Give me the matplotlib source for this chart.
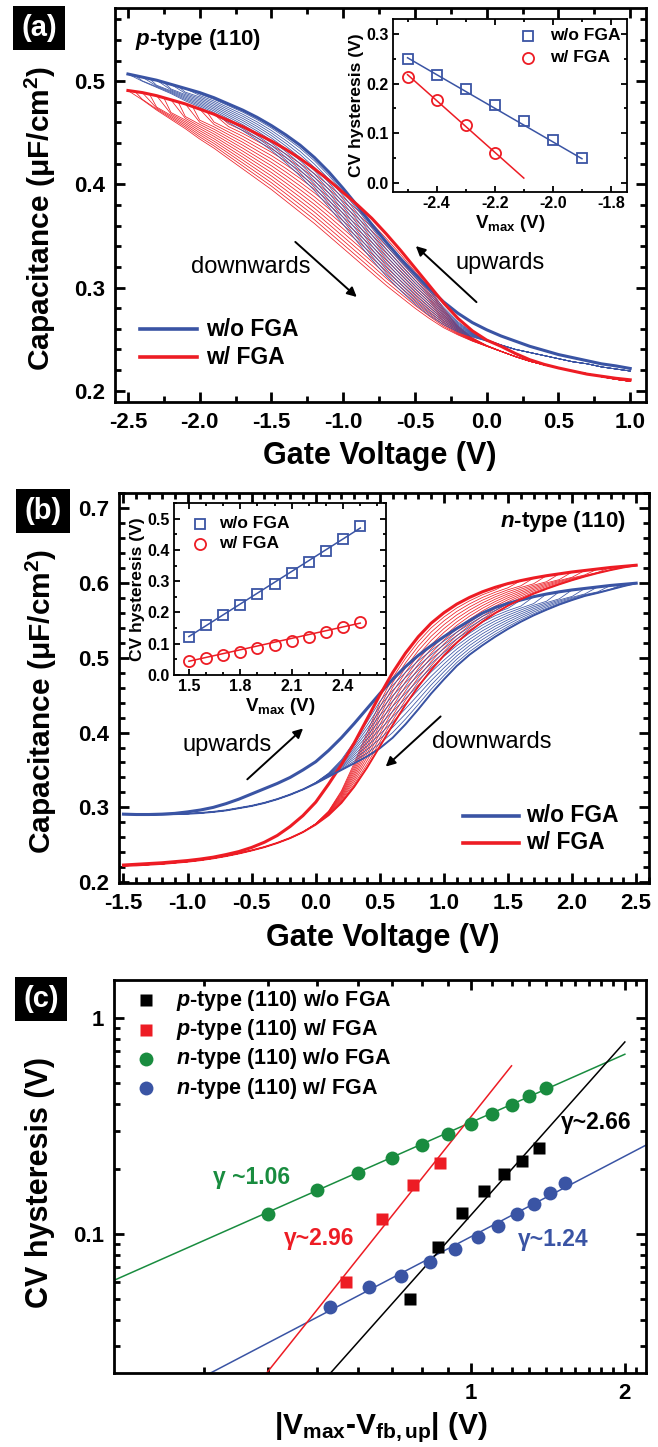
import numpy as np
import matplotlib
matplotlib.use('Agg')
import matplotlib.pyplot as plt
from matplotlib.ticker import MultipleLocator, FixedLocator, FixedFormatter, NullFormatter

plt.rcParams['font.family'] = ['Liberation Sans', 'DejaVu Sans']
plt.rcParams['font.weight'] = 'bold'
plt.rcParams['axes.labelweight'] = 'bold'
plt.rcParams['axes.unicode_minus'] = False
plt.rcParams['mathtext.fontset'] = 'custom'
plt.rcParams['mathtext.rm'] = 'Liberation Sans:bold'
plt.rcParams['mathtext.bf'] = 'Liberation Sans:bold'
plt.rcParams['mathtext.it'] = 'Liberation Sans:italic:bold'
plt.rcParams['mathtext.default'] = 'rm'

W, H = 658, 1447
BLUE = '#3a54a4'
RED = '#ed1c24'
GREEN = '#198c3f'

# ---------------- (a) p-type (110) CV loops ----------------
va = [-2.5, -2.4, -2.3, -2.2, -2.1, -2.0, -1.9, -1.8, -1.7, -1.6, -1.5, -1.4,
      -1.3, -1.2, -1.1, -1.0, -0.9, -0.8, -0.7, -0.6, -0.5, -0.4, -0.3, -0.2,
      -0.1, 0.0, 0.1, 0.2, 0.3, 0.4, 0.5, 0.6, 0.7, 0.8, 0.9, 1.0]
blue_a_up = [0.507, 0.504, 0.501, 0.497, 0.493, 0.489, 0.484, 0.478, 0.472, 0.465, 0.457, 0.448,
             0.438, 0.426, 0.412, 0.396, 0.379, 0.361, 0.344, 0.328, 0.313, 0.299, 0.286, 0.275,
             0.266, 0.259, 0.253, 0.248, 0.243, 0.239, 0.235, 0.232, 0.229, 0.226, 0.224, 0.2215]
blue_a_down = [0.507, 0.500, 0.494, 0.488, 0.481, 0.475, 0.468, 0.460, 0.452, 0.443, 0.433, 0.421,
               0.408, 0.394, 0.378, 0.361, 0.344, 0.327, 0.311, 0.297, 0.284, 0.273, 0.264, 0.257,
               0.252, 0.248, 0.244, 0.240, 0.237, 0.234, 0.231, 0.228, 0.226, 0.223, 0.221, 0.219]
red_a_up = [0.491, 0.489, 0.486, 0.482, 0.478, 0.473, 0.468, 0.462, 0.456, 0.449, 0.442, 0.434,
            0.425, 0.415, 0.404, 0.392, 0.380, 0.367, 0.352, 0.336, 0.319, 0.302, 0.285, 0.270,
            0.258, 0.249, 0.243, 0.236, 0.230, 0.2255, 0.222, 0.219, 0.216, 0.214, 0.212, 0.2105]
red_a_down = [0.491, 0.482, 0.472, 0.463, 0.454, 0.444, 0.435, 0.425, 0.415, 0.405, 0.395, 0.384,
              0.373, 0.362, 0.350, 0.338, 0.326, 0.314, 0.302, 0.291, 0.280, 0.270, 0.261, 0.254,
              0.248, 0.243, 0.238, 0.233, 0.2285, 0.225, 0.222, 0.219, 0.2165, 0.2135, 0.211, 0.209]
# how far the downward sweeps are still spread apart at each voltage (1 = full fan)
a_spread = [1, 1, 1, 1, 1, 1, 1, 1, 1, 1, 1, 1, 1, 1, 1, 1, 1, 1, 1, 1, 1, 1,
            0.85, 0.6, 0.35, 0.15, 0.05, 0, 0, 0, 0, 0, 0, 0, 0, 0]
blue_a_vmax = [-2.5, -2.45, -2.4, -2.35, -2.3, -2.25, -2.2, -2.15, -2.1, -2.05]
blue_a_apex = [0.507, 0.5055, 0.504, 0.5025, 0.501, 0.499, 0.497, 0.495, 0.493, 0.491]
blue_a_frac = [1.0, 0.9, 0.8, 0.7, 0.6, 0.5, 0.4, 0.3, 0.2, 0.1]
red_a_vmax = [-2.5, -2.45, -2.4, -2.35, -2.3, -2.25, -2.2, -2.15, -2.1, -2.05, -2.0, -1.95, -1.9, -1.85]
red_a_apex = [0.491, 0.490, 0.489, 0.4875, 0.486, 0.484, 0.482, 0.480, 0.478, 0.4755, 0.473, 0.4705, 0.468, 0.465]
red_a_frac = [1.0, 0.93, 0.86, 0.79, 0.72, 0.65, 0.58, 0.51, 0.44, 0.37, 0.30, 0.23, 0.16, 0.09]

# (a) inset
a_in_vmax_wo = [-2.5, -2.4, -2.3, -2.2, -2.1, -2.0, -1.9]
a_in_hys_wo = [0.250, 0.218, 0.190, 0.158, 0.125, 0.087, 0.050]
a_in_vmax_w = [-2.5, -2.4, -2.3, -2.2]
a_in_hys_w = [0.213, 0.168, 0.117, 0.060]
a_fit_wo_x, a_fit_wo_y = [-2.5, -1.9], [0.252, 0.049]
a_fit_w_x, a_fit_w_y = [-2.5, -2.1], [0.218, 0.010]

# ---------------- (b) n-type (110) CV loops ----------------
vb = [-1.5, -1.4, -1.3, -1.2, -1.1, -1.0, -0.9, -0.8, -0.7, -0.6, -0.5, -0.4, -0.3, -0.2,
      -0.1, 0.0, 0.1, 0.2, 0.3, 0.4, 0.5, 0.6, 0.7, 0.8, 0.9, 1.0, 1.1, 1.2, 1.3, 1.4,
      1.5, 1.6, 1.7, 1.8, 1.9, 2.0, 2.1, 2.2, 2.3, 2.4, 2.5]
blue_b_up = [0.291, 0.2905, 0.2905, 0.291, 0.292, 0.294, 0.2965, 0.300, 0.305, 0.311, 0.318, 0.325,
             0.332, 0.340, 0.350, 0.361, 0.376, 0.393, 0.412, 0.432, 0.452, 0.471, 0.488, 0.503,
             0.516, 0.528, 0.539, 0.5495, 0.5595, 0.567, 0.5725, 0.577, 0.5815, 0.585, 0.588,
             0.5905, 0.5925, 0.5945, 0.5965, 0.598, 0.5995]
blue_b_down = [0.291, 0.2905, 0.290, 0.2905, 0.291, 0.2915, 0.2925, 0.294, 0.296, 0.299, 0.302, 0.306,
               0.311, 0.317, 0.324, 0.332, 0.341, 0.350, 0.359, 0.368, 0.379, 0.393, 0.411, 0.431,
               0.452, 0.471, 0.489, 0.504, 0.5165, 0.528, 0.5385, 0.548, 0.5565, 0.564, 0.571,
               0.577, 0.5825, 0.5865, 0.591, 0.5955, 0.5995]
red_b_up = [0.223, 0.224, 0.225, 0.226, 0.2275, 0.229, 0.231, 0.2335, 0.237, 0.241, 0.2465, 0.2535,
            0.2625, 0.2745, 0.289, 0.307, 0.331, 0.357, 0.386, 0.418, 0.450, 0.480, 0.506, 0.528,
            0.546, 0.560, 0.5715, 0.5805, 0.588, 0.594, 0.599, 0.603, 0.6065, 0.6095, 0.612,
            0.6145, 0.6165, 0.6185, 0.6205, 0.622, 0.6235]
red_b_down = [0.222, 0.2225, 0.2235, 0.2245, 0.226, 0.2275, 0.2295, 0.232, 0.235, 0.2385, 0.2425, 0.247,
              0.2525, 0.259, 0.267, 0.277, 0.2895, 0.306, 0.3275, 0.353, 0.3815, 0.410, 0.437, 0.4615,
              0.4835, 0.503, 0.520, 0.535, 0.548, 0.5595, 0.5695, 0.578, 0.5855, 0.592, 0.598,
              0.6035, 0.6085, 0.613, 0.617, 0.6205, 0.6235]
b_spread = [0, 0, 0, 0, 0, 0, 0, 0, 0, 0, 0, 0, 0, 0, 0,
            0.05, 0.15, 0.35, 0.6, 0.8, 0.95,
            1, 1, 1, 1, 1, 1, 1, 1, 1, 1, 1, 1, 1, 1, 1, 1, 1, 1, 1, 1]
b_vmax = [1.5, 1.6, 1.7, 1.8, 1.9, 2.0, 2.1, 2.2, 2.3, 2.4, 2.5]
blue_b_apex = [0.5725, 0.577, 0.5815, 0.585, 0.588, 0.5905, 0.5925, 0.5945, 0.5965, 0.598, 0.5995]
red_b_apex = [0.599, 0.603, 0.6065, 0.6095, 0.612, 0.6145, 0.6165, 0.6185, 0.6205, 0.622, 0.6235]
b_frac = [0.1, 0.19, 0.28, 0.37, 0.46, 0.55, 0.64, 0.73, 0.82, 0.91, 1.0]

# (b) inset
b_in_vmax = [1.5, 1.6, 1.7, 1.8, 1.9, 2.0, 2.1, 2.2, 2.3, 2.4, 2.5]
b_in_hys_wo = [0.123, 0.160, 0.193, 0.225, 0.258, 0.290, 0.325, 0.360, 0.398, 0.435, 0.475]
b_in_hys_w = [0.045, 0.055, 0.063, 0.073, 0.085, 0.097, 0.110, 0.123, 0.137, 0.155, 0.170]
b_fit_x = [1.5, 2.5]
b_fit_wo_y = [0.123, 0.470]
b_fit_w_y = [0.044, 0.166]

# ---------------- (c) hysteresis vs |Vmax - Vfb,up| ----------------
c_p_wo_x = [0.76, 0.86, 0.96, 1.06, 1.16, 1.26, 1.36]
c_p_wo_y = [0.050, 0.087, 0.125, 0.158, 0.190, 0.218, 0.250]
c_p_w_x = [0.57, 0.67, 0.77, 0.87]
c_p_w_y = [0.060, 0.117, 0.168, 0.213]
c_n_wo_x = [0.40, 0.50, 0.60, 0.70, 0.80, 0.90, 1.00, 1.10, 1.20, 1.30, 1.40]
c_n_wo_y = [0.123, 0.160, 0.192, 0.224, 0.258, 0.291, 0.324, 0.359, 0.397, 0.434, 0.473]
c_n_w_x = [0.53, 0.63, 0.73, 0.83, 0.93, 1.03, 1.13, 1.23, 1.33, 1.43, 1.53]
c_n_w_y = [0.0458, 0.0564, 0.0639, 0.0738, 0.0851, 0.0965, 0.109, 0.124, 0.137, 0.155, 0.171]
fit_p_wo = ([0.52, 2.0], [0.0214, 0.774])
fit_p_w = ([0.395, 1.2], [0.0221, 0.600])
fit_n_wo = ([0.19, 2.0], [0.0576, 0.679])
fit_n_w = ([0.28, 2.3], [0.0200, 0.272])


def px(x, y):
	return x / W, 1 - y / H


def axbox(l, t, r, b):
	return [l / W, 1 - b / H, (r - l) / W, (b - t) / H]


def style(ax, lw=2.0, size=16, major=7, minor=4, pad=6):
	for s in ax.spines.values():
		s.set_linewidth(lw)
	ax.tick_params(which='both', direction='in', top=True, right=True,
				   width=lw, labelsize=size, pad=pad)
	ax.tick_params(which='major', length=major)
	ax.tick_params(which='minor', length=minor)


def loops(ax, v, up, down, spread, vmax, apex, frac, color, ptype=True):
	# each downward sweep sits between the widest sweep and the upward branch
	v = np.array(v)
	up = np.array(up)
	down = np.array(down)
	spread = np.array(spread, dtype=float)
	for vm, ac, f in zip(vmax, apex, frac):
		if ptype:
			keep = v > vm + 1e-6
		else:
			keep = v < vm - 1e-6
		c = down[keep] + spread[keep] * (1 - f) * (up[keep] - down[keep])
		if ptype:
			xs, ys = np.r_[vm, v[keep]], np.r_[ac, c]
		else:
			xs, ys = np.r_[v[keep], vm], np.r_[c, ac]
		ax.plot(xs, ys, color=color, lw=0.55)


def panel_label(txt, x, y):
	fig.text(*px(x, y), txt, color='white', fontsize=21, fontweight='bold',
			 ha='center', va='center',
			 bbox=dict(boxstyle='square,pad=0.28', fc='black', ec='none'))


def arrow(ax, tail, head):
	ax.annotate('', xy=head, xytext=tail,
				arrowprops=dict(arrowstyle='-|>', lw=1.4, color='k', mutation_scale=14))


fig = plt.figure(figsize=(W / 100, H / 100), dpi=100)

# ======================= panel (a) =======================
ax = fig.add_axes(axbox(115, 8, 646, 402))
loops(ax, va, red_a_up, red_a_down, a_spread, red_a_vmax, red_a_apex, red_a_frac, RED)
loops(ax, va, blue_a_up, blue_a_down, a_spread, blue_a_vmax, blue_a_apex, blue_a_frac, BLUE)
ax.plot(va, blue_a_up, color=BLUE, lw=2.2)
ax.plot(va, red_a_up, color=RED, lw=2.2)
ax.set_xlim(-2.59, 1.11)
ax.set_ylim(0.189, 0.571)
ax.set_xticks([-2.5, -2.0, -1.5, -1.0, -0.5, 0.0, 0.5, 1.0])
ax.set_xticklabels(['-2.5', '-2.0', '-1.5', '-1.0', '-0.5', '0.0', '0.5', '1.0'])
ax.set_yticks([0.2, 0.3, 0.4, 0.5])
ax.set_yticklabels(['0.2', '0.3', '0.4', '0.5'])
ax.xaxis.set_minor_locator(MultipleLocator(0.25))
ax.yaxis.set_minor_locator(MultipleLocator(0.02))
style(ax, pad=7)
ax.text(0.038, 0.919, r'$\mathit{p}$-type (110)', transform=ax.transAxes,
		fontsize=16, ha='left', va='center')
ax.text(0.256, 0.343, 'downwards', transform=ax.transAxes, fontsize=17,
		fontweight='normal', ha='center', va='center')
ax.text(0.725, 0.353, 'upwards', transform=ax.transAxes, fontsize=17,
		fontweight='normal', ha='center', va='center')
arrow(ax, (-1.348, 0.346), (-0.891, 0.289))
arrow(ax, (-0.057, 0.284), (-0.508, 0.342))
for yy, c, lab in [(0.185, BLUE, 'w/o FGA'), (0.114, RED, 'w/ FGA')]:
	ax.plot([0.047, 0.154], [yy, yy], color=c, lw=2.6, transform=ax.transAxes)
	ax.text(0.171, yy, lab, transform=ax.transAxes, fontsize=16.5, va='center')

# inset (a)
ai = fig.add_axes(axbox(393, 19, 627, 192))
ai.plot(a_fit_wo_x, a_fit_wo_y, color=BLUE, lw=1.1)
ai.plot(a_fit_w_x, a_fit_w_y, color=RED, lw=1.1)
ai.plot(a_in_vmax_wo, a_in_hys_wo, 's', ms=7, mfc='none', mec=BLUE, mew=1.3)
ai.plot(a_in_vmax_w, a_in_hys_w, 'o', ms=8, mfc='none', mec=RED, mew=1.3)
ai.set_xlim(-2.55, -1.745)
ai.set_ylim(-0.018, 0.33)
ai.set_xticks([-2.4, -2.2, -2.0, -1.8])
ai.set_xticklabels(['-2.4', '-2.2', '-2.0', '-1.8'])
ai.set_yticks([0.0, 0.1, 0.2, 0.3])
ai.set_yticklabels(['0.0', '0.1', '0.2', '0.3'])
ai.xaxis.set_minor_locator(MultipleLocator(0.1))
ai.yaxis.set_minor_locator(MultipleLocator(0.05))
style(ai, lw=1.3, size=11.5, major=4, minor=2.5, pad=3)
ai.set_ylabel('CV hysteresis (V)', fontsize=12.5, fontweight='bold', labelpad=2)
ai.set_xlabel('V$_{max}$ (V)', fontsize=13.5, fontweight='bold', labelpad=1)
ai.plot([0.577], [0.902], 's', ms=7, mfc='none', mec=BLUE, mew=1.3, transform=ai.transAxes)
ai.plot([0.577], [0.775], 'o', ms=8, mfc='none', mec=RED, mew=1.3, transform=ai.transAxes)
ai.text(0.671, 0.902, 'w/o FGA', transform=ai.transAxes, fontsize=12.5, va='center')
ai.text(0.671, 0.775, 'w/ FGA', transform=ai.transAxes, fontsize=12.5, va='center')

fig.text(*px(40, 218), r'Capacitance (μF/cm$^2$)', rotation=90, fontsize=21.5,
		 ha='center', va='center')
fig.text(*px(380, 456), 'Gate Voltage (V)', fontsize=22, ha='center', va='center')
panel_label('(a)', 39, 28)

# ======================= panel (b) =======================
bx = fig.add_axes(axbox(119, 493, 649, 883))
loops(bx, vb, red_b_up, red_b_down, b_spread, b_vmax, red_b_apex, b_frac, RED, ptype=False)
loops(bx, vb, blue_b_up, blue_b_down, b_spread, b_vmax, blue_b_apex, b_frac, BLUE, ptype=False)
bx.plot(vb, blue_b_up, color=BLUE, lw=2.2)
bx.plot(vb, red_b_up, color=RED, lw=2.2)
bx.plot(vb, blue_b_down, color=BLUE, lw=1.4)
bx.plot(vb, red_b_down, color=RED, lw=1.4)
bx.set_xlim(-1.535, 2.6)
bx.set_ylim(0.199, 0.72)
bx.set_xticks([-1.5, -1.0, -0.5, 0.0, 0.5, 1.0, 1.5, 2.0, 2.5])
bx.set_xticklabels(['-1.5', '-1.0', '-0.5', '0.0', '0.5', '1.0', '1.5', '2.0', '2.5'])
bx.set_yticks([0.2, 0.3, 0.4, 0.5, 0.6, 0.7])
bx.set_yticklabels(['0.2', '0.3', '0.4', '0.5', '0.6', '0.7'])
bx.xaxis.set_minor_locator(MultipleLocator(0.1))
bx.yaxis.set_minor_locator(MultipleLocator(0.02))
style(bx, pad=7)
bx.text(0.957, 0.926, r'$\mathit{n}$-type (110)', transform=bx.transAxes,
		fontsize=16, ha='right', va='center')
bx.text(0.204, 0.354, 'upwards', transform=bx.transAxes, fontsize=17,
		fontweight='normal', ha='center', va='center')
bx.text(0.704, 0.362, 'downwards', transform=bx.transAxes, fontsize=17,
		fontweight='normal', ha='center', va='center')
arrow(bx, (-0.550, 0.335), (-0.083, 0.408))
arrow(bx, (0.990, 0.424), (0.530, 0.352))
for yy, c, lab in [(0.172, BLUE, 'w/o FGA'), (0.103, RED, 'w/ FGA')]:
	bx.plot([0.649, 0.755], [yy, yy], color=c, lw=2.6, transform=bx.transAxes)
	bx.text(0.768, yy, lab, transform=bx.transAxes, fontsize=16.5, va='center')

# inset (b)
bi = fig.add_axes(axbox(174, 503, 386, 675))
bi.plot(b_fit_x, b_fit_wo_y, color=BLUE, lw=1.1)
bi.plot(b_fit_x, b_fit_w_y, color=RED, lw=1.1)
bi.plot(b_in_vmax, b_in_hys_wo, 's', ms=7, mfc='none', mec=BLUE, mew=1.3)
bi.plot(b_in_vmax, b_in_hys_w, 'o', ms=8, mfc='none', mec=RED, mew=1.3)
bi.set_xlim(1.413, 2.65)
bi.set_ylim(0.0, 0.55)
bi.set_xticks([1.5, 1.8, 2.1, 2.4])
bi.set_xticklabels(['1.5', '1.8', '2.1', '2.4'])
bi.set_yticks([0.0, 0.1, 0.2, 0.3, 0.4, 0.5])
bi.set_yticklabels(['0.0', '0.1', '0.2', '0.3', '0.4', '0.5'])
bi.xaxis.set_minor_locator(MultipleLocator(0.1))
bi.yaxis.set_minor_locator(MultipleLocator(0.05))
style(bi, lw=1.3, size=11.5, major=4, minor=2.5, pad=3)
bi.set_ylabel('CV hysteresis (V)', fontsize=12.5, fontweight='bold', labelpad=2)
bi.set_xlabel('V$_{max}$ (V)', fontsize=13.5, fontweight='bold', labelpad=1)
bi.plot([0.123], [0.878], 's', ms=7, mfc='none', mec=BLUE, mew=1.3, transform=bi.transAxes)
bi.plot([0.123], [0.762], 'o', ms=8, mfc='none', mec=RED, mew=1.3, transform=bi.transAxes)
bi.text(0.212, 0.878, 'w/o FGA', transform=bi.transAxes, fontsize=12.5, va='center')
bi.text(0.212, 0.762, 'w/ FGA', transform=bi.transAxes, fontsize=12.5, va='center')

fig.text(*px(41, 701), r'Capacitance (μF/cm$^2$)', rotation=90, fontsize=21.5,
		 ha='center', va='center')
fig.text(*px(383, 938), 'Gate Voltage (V)', fontsize=22, ha='center', va='center')
panel_label('(b)', 43, 511)

# ======================= panel (c) =======================
cx = fig.add_axes(axbox(114, 980, 646, 1373))
cx.set_xscale('log')
cx.set_yscale('log')
cx.plot(*fit_n_wo, color=GREEN, lw=1.1)
cx.plot(*fit_n_w, color=BLUE, lw=1.1)
cx.plot(*fit_p_w, color=RED, lw=1.1)
cx.plot(*fit_p_wo, color='k', lw=1.1)
cx.plot(c_n_wo_x, c_n_wo_y, 'o', ms=10, color=GREEN, mec='none')
cx.plot(c_n_w_x, c_n_w_y, 'o', ms=10, color=BLUE, mec='none')
cx.plot(c_p_w_x, c_p_w_y, 's', ms=9, color=RED, mec='none')
cx.plot(c_p_wo_x, c_p_wo_y, 's', ms=9, color='k', mec='none')
cx.set_xlim(0.2, 2.2)
cx.set_ylim(0.0226, 1.5)
cx.xaxis.set_major_locator(FixedLocator([1, 2]))
cx.xaxis.set_major_formatter(FixedFormatter(['1', '2']))
cx.xaxis.set_minor_locator(FixedLocator([0.3, 0.4, 0.5, 0.6, 0.7, 0.8, 0.9, 1.1, 1.2, 1.3,
										  1.4, 1.5, 1.6, 1.7, 1.8, 1.9, 2.1]))
cx.xaxis.set_minor_formatter(NullFormatter())
cx.yaxis.set_major_locator(FixedLocator([0.1, 1]))
cx.yaxis.set_major_formatter(FixedFormatter(['0.1', '1']))
cx.yaxis.set_minor_locator(FixedLocator([0.03, 0.04, 0.05, 0.06, 0.07, 0.08, 0.09,
										  0.2, 0.3, 0.4, 0.5, 0.6, 0.7, 0.8, 0.9]))
cx.yaxis.set_minor_formatter(NullFormatter())
style(cx, pad=7)
cx.text(0.312, 0.183, 'γ ~1.06', color=GREEN, fontsize=16.5, va='center')
cx.text(0.431, 0.0953, 'γ~2.96', color=RED, fontsize=16.5, va='center')
cx.text(1.50, 0.326, 'γ~2.66', color='k', fontsize=16.5, va='center')
cx.text(1.236, 0.0943, 'γ~1.24', color=BLUE, fontsize=16.5, va='center')
leg = [('s', 'k', 9, r'$\mathit{p}$-type (110) w/o FGA'),
	   ('s', RED, 9, r'$\mathit{p}$-type (110) w/ FGA'),
	   ('o', GREEN, 10, r'$\mathit{n}$-type (110) w/o FGA'),
	   ('o', BLUE, 10, r'$\mathit{n}$-type (110) w/ FGA')]
for (m, c, ms, lab), yy in zip(leg, [0.949, 0.873, 0.799, 0.725]):
	cx.plot([0.060], [yy], m, ms=ms, color=c, mec='none', transform=cx.transAxes)
	cx.text(0.1165, yy, lab, transform=cx.transAxes, fontsize=15.5, va='center')

fig.text(*px(40, 1183), 'CV hysteresis (V)', rotation=90, fontsize=22,
		 ha='center', va='center')
fig.text(*px(381, 1428), '|V$_{max}$-V$_{fb,up}$| (V)', fontsize=21.5, ha='center', va='center')
panel_label('(c)', 41, 999)

fig.savefig('out.png', dpi=100)
